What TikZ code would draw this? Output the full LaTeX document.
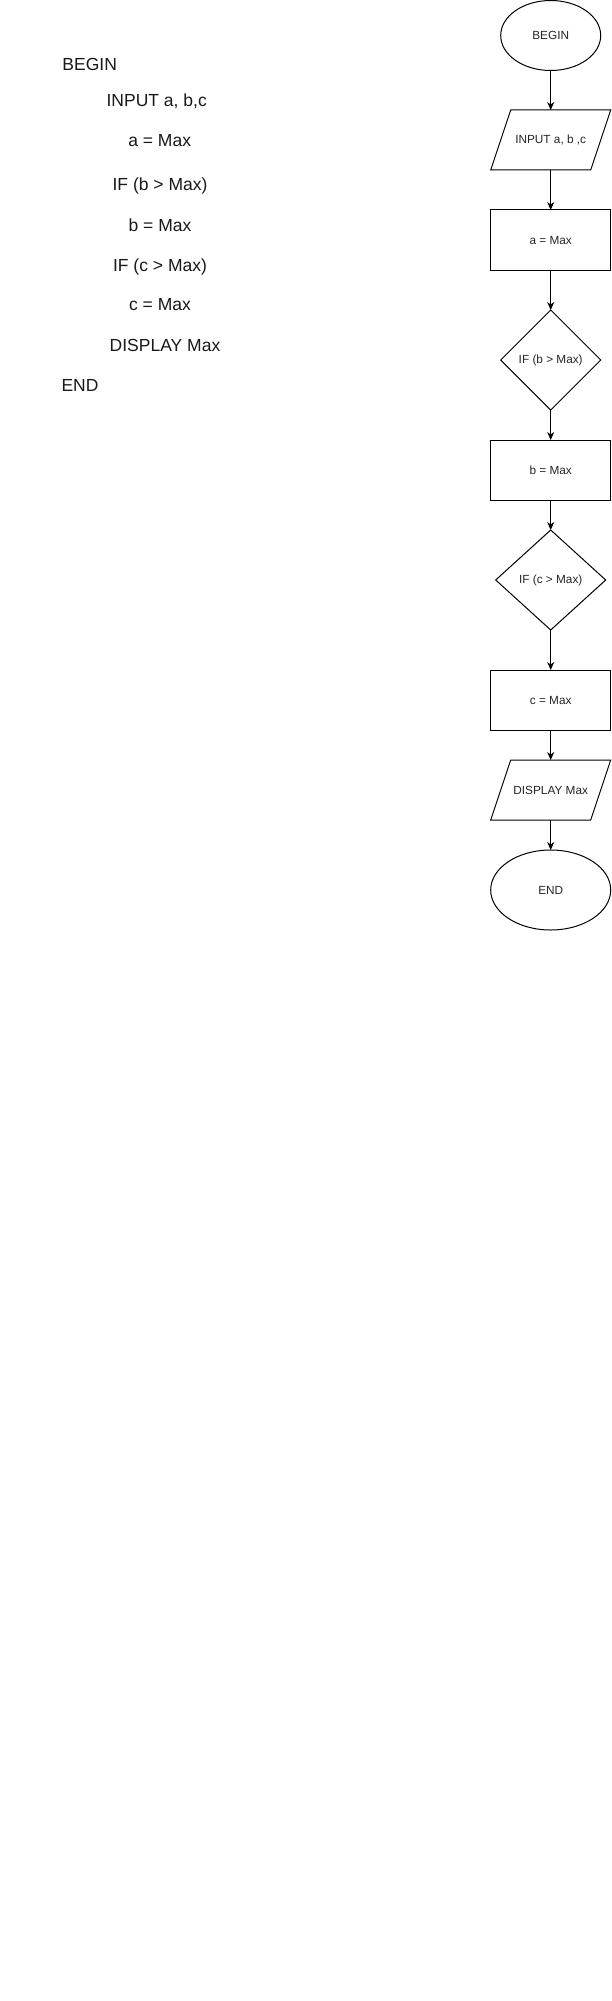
\documentclass[tikz,border=0pt]{standalone}
\usepackage{fontspec}
\setmainfont{Liberation Sans}
\usetikzlibrary{shapes.geometric,arrows.meta}
\tikzset{
  every node/.style={inner sep=0pt, outer sep=0pt},
  shp/.style={draw, line width=1pt, font=\fontsize{11.8}{14}\selectfont, text=black!85},
  term/.style={shp, ellipse},
  procbox/.style={shp, rectangle, minimum width=120, minimum height=60},
  decide/.style={shp, diamond, minimum height=100},
  iobase/.style={rectangle, minimum width=100, minimum height=60, font=\fontsize{11.8}{14}\selectfont, text=black!85},
  iopath/.style={draw, line width=1pt, line join=miter},
  conn/.style={draw, line width=1pt, -{Stealth[length=8pt,width=7pt,inset=2.5pt]}},
  code/.style={anchor=base, font=\fontsize{17.5}{21}\selectfont, text=black!90}
}
\begin{document}
\begin{tikzpicture}[x=1pt,y=-1pt]
\useasboundingbox[fill=white] (0,0) rectangle (611,2001);

% pseudocode
\node[code] (t1) at (89.7,71) {BEGIN};
\node[code] (t2) at (156.7,106.2) {INPUT a, b,c};
\node[code] (t3) at (159.7,146.2) {a = Max};
\node[code] (t4) at (160,190.2) {IF (b > Max)};
\node[code] (t5) at (160,231.7) {b = Max};
\node[code] (t6) at (160,271.2) {IF (c > Max)};
\node[code] (t7) at (160,310.7) {c = Max};
\node[code] (t8) at (165,351.2) {DISPLAY Max};
\node[code] (t9) at (80,391.2) {END};

% flowchart
\node[term, minimum width=100, minimum height=70] (begin) at (550.7,35.5) {BEGIN};
\node[iobase] (input) at (550.7,140) {INPUT a, b ,c};
\draw[iopath] ([xshift=10pt]input.north west) -- ([xshift=10pt]input.north east)
  -- ([xshift=-10pt]input.south east) -- ([xshift=-10pt]input.south west) -- cycle;
\node[procbox] (amax) at (550.7,240) {a = Max};
\node[decide, minimum width=100] (ifb) at (550.7,360) {IF (b > Max)};
\node[procbox] (bmax) at (550.7,470) {b = Max};
\node[decide, minimum width=110] (ifc) at (550.7,580) {IF (c > Max)};
\node[procbox] (cmax) at (550.7,700) {c = Max};
\node[iobase] (disp) at (550.7,790) {DISPLAY Max};
\draw[iopath] ([xshift=10pt]disp.north west) -- ([xshift=10pt]disp.north east)
  -- ([xshift=-10pt]disp.south east) -- ([xshift=-10pt]disp.south west) -- cycle;
\node[term, minimum width=120, minimum height=80] (endn) at (550.7,890) {END};

\draw[conn] (begin.south) -- (input.north);
\draw[conn] (input.south) -- (amax.north);
\draw[conn] (amax.south) -- (ifb.north);
\draw[conn] (ifb.south) -- (bmax.north);
\draw[conn] (bmax.south) -- (ifc.north);
\draw[conn] (ifc.south) -- (cmax.north);
\draw[conn] (cmax.south) -- (disp.north);
\draw[conn] (disp.south) -- (endn.north);
\end{tikzpicture}
\end{document}
